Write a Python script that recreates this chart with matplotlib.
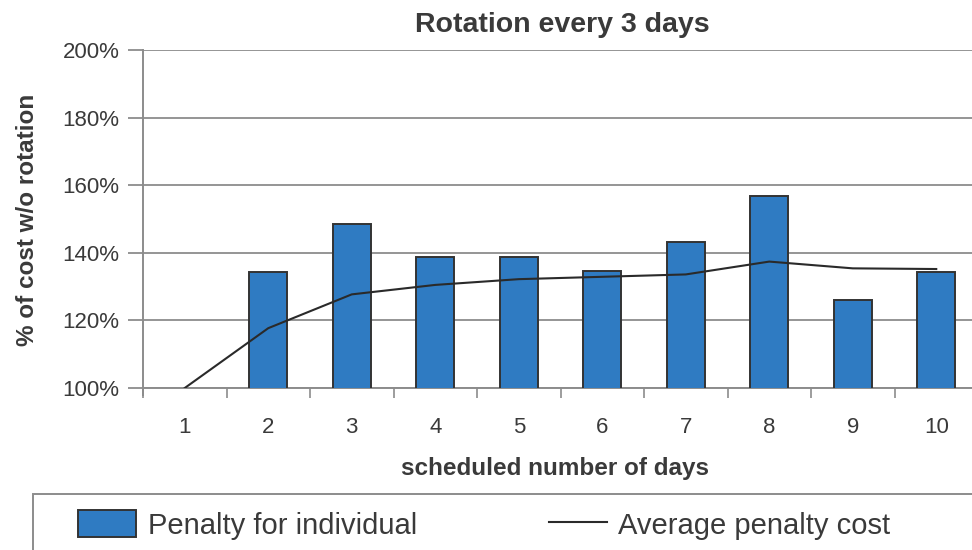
import numpy as np
import matplotlib
matplotlib.use("Agg")
import matplotlib.pyplot as plt
from matplotlib.patches import Rectangle
from matplotlib.ticker import FixedLocator, PercentFormatter

plt.rcParams['font.family'] = ['Liberation Sans', 'DejaVu Sans']

days = [1, 2, 3, 4, 5, 6, 7, 8, 9, 10]
penalty_individual = [np.nan, 134.4, 148.4, 138.8, 138.8, 134.6, 143.1, 156.9, 126.0, 134.4]
average_penalty = [100.0, 117.7, 127.7, 130.5, 132.2, 132.9, 133.6, 137.4, 135.4, 135.2]

text_col = '#3a3a3a'
grid_col = '#8c8c8c'
bar_col = '#2f7bc2'

fig = plt.figure(figsize=(9.72, 5.5), dpi=100)
ax = fig.add_axes([143 / 972, 162 / 550, 835 / 972, 338 / 550])

bars = ax.bar(days, penalty_individual, width=0.45, color=bar_col, edgecolor='#333333',
              linewidth=1.4, zorder=3, label='Penalty for individual')
line, = ax.plot(days, average_penalty, color='#2a2a2a', linewidth=1.5, zorder=4,
                label='Average penalty cost')

ax.set_xlim(0.5, 10.5)
ax.set_ylim(100, 200)
ax.set_yticks(np.arange(100, 201, 20))
ax.yaxis.set_major_formatter(PercentFormatter(decimals=0))
ax.yaxis.grid(True, color=grid_col, linewidth=1.3, zorder=0)
ax.set_axisbelow(True)

ax.set_xticks(days)
ax.xaxis.set_minor_locator(FixedLocator(np.arange(0.5, 11, 1)))
ax.tick_params(axis='x', which='major', length=0, pad=21, labelsize=16, labelcolor=text_col)
ax.tick_params(axis='x', which='minor', length=7, width=1.2, color=grid_col, direction='out')
ax.tick_params(axis='y', length=11, width=1.3, color=grid_col, pad=6, labelsize=16,
               labelcolor=text_col)

for side in ['top', 'right']:
    ax.spines[side].set_visible(False)
for side in ['left', 'bottom']:
    ax.spines[side].set_color(grid_col)
    ax.spines[side].set_linewidth(1.4)
ax.spines['left'].set_bounds(98, 200)

fig.text(0.5787, 0.9545, 'Rotation every 3 days', ha='center', va='center',
         fontsize=20.5, fontweight='bold', color=text_col)
fig.text(0.5715, 0.149, 'scheduled number of days', ha='center', va='center',
         fontsize=17.5, fontweight='bold', color=text_col)
fig.text(0.0278, 0.601, '% of cost w/o rotation', ha='center', va='center',
         rotation=90, fontsize=17.5, fontweight='bold', color=text_col)

# legend frame runs off the bottom/right of the figure
fig.patches.append(Rectangle((33 / 972, -0.05), 1.0, 0.05 + 56 / 550,
                             transform=fig.transFigure, fill=False,
                             edgecolor=grid_col, linewidth=1.4))

fig.legend([bars, line], ['Penalty for individual', 'Average penalty cost'],
           loc='center left', bbox_to_anchor=(78 / 972, 25 / 550),
           ncol=2, frameon=False, fontsize=21, handlelength=2.0, handleheight=1.0,
           handletextpad=0.4, columnspacing=4.5, borderpad=0, borderaxespad=0,
           labelcolor=text_col)

fig.savefig('out.png', dpi=100)
